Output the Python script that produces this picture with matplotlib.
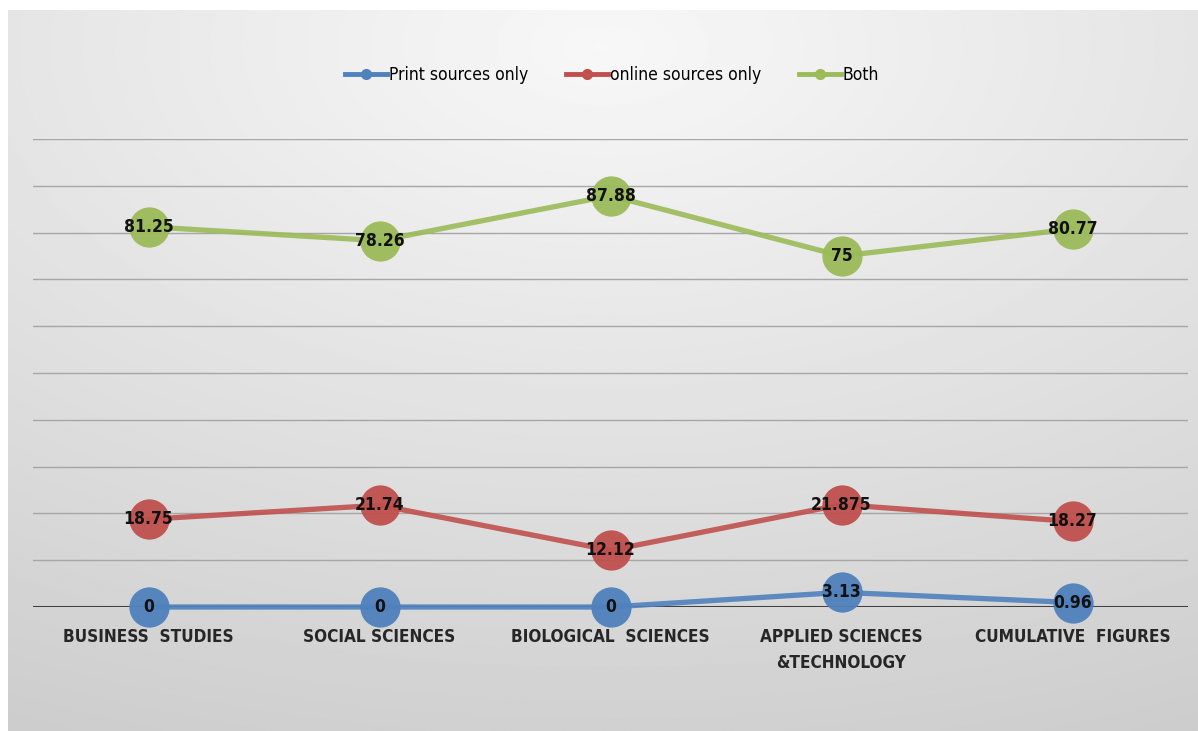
import matplotlib
matplotlib.use("Agg")
import matplotlib.pyplot as plt
import numpy as np

plt.rcParams['font.family'] = ['DejaVu Sans']
plt.rcParams['font.stretch'] = 'condensed'

categories = ["BUSINESS  STUDIES", "SOCIAL SCIENCES", "BIOLOGICAL  SCIENCES",
              "APPLIED SCIENCES\n&TECHNOLOGY", "CUMULATIVE  FIGURES"]
print_only = [0, 0, 0, 3.13, 0.96]
online_only = [18.75, 21.74, 12.12, 21.875, 18.27]
both = [81.25, 78.26, 87.88, 75, 80.77]
print_labels = ["0", "0", "0", "3.13", "0.96"]
online_labels = ["18.75", "21.74", "12.12", "21.875", "18.27"]
both_labels = ["81.25", "78.26", "87.88", "75", "80.77"]

W, H = 1198, 731
fig = plt.figure(figsize=(W / 100, H / 100), dpi=100)
fig.patch.set_facecolor("white")

# gradient background panel
bg = fig.add_axes([8 / W, 0, 1 - 8 / W, 1 - 10 / H])
yy, xx = np.mgrid[0:1:300j, 0:1:500j]
r = np.sqrt(((xx - 0.5) * 1.0) ** 2 + ((yy - 0.05) * 1.1) ** 2)
shade = 0.97 - 0.16 * np.clip(r, 0, 1.2) / 1.1
bg.imshow(shade, cmap="gray", vmin=0, vmax=1, aspect="auto", extent=[0, 1, 1, 0])
bg.set_axis_off()

ax = fig.add_axes([33 / W, 1 - 607 / H, (1188 - 33) / W, (607 - 139) / H])
ax.patch.set_alpha(0)
x = np.arange(len(categories))

series = [
    (print_only, print_labels, "#4F81BD", "Print sources only"),
    (online_only, online_labels, "#C0504D", "online sources only"),
    (both, both_labels, "#9BBB59", "Both"),
]

for yv in range(10, 101, 10):
    ax.axhline(yv, color="#a6a6a6", lw=1.0, zorder=1)
ax.axhline(0, color="#404040", lw=2.2, zorder=1)

handles = []
for vals, labs, col, name in series:
    ax.plot(x, vals, color=col, lw=3.8, zorder=3, alpha=0.9, clip_on=False)
    ax.plot(x, vals, "o", color=col, ms=29, mec="none", zorder=4, alpha=0.95,
            clip_on=False)
    h, = ax.plot([], [], color=col, lw=3.5, marker="o", ms=7, label=name)
    handles.append(h)
    for xi, v, t in zip(x, vals, labs):
        ax.text(xi, v, t, ha="center", va="center", fontsize=12.5,
                fontweight="bold", color="#111111", zorder=5)

ax.set_xlim(-0.5, len(categories) - 0.5)
ax.set_ylim(0, 100)
ax.set_yticks([])
ax.set_xticks(x)
ax.set_xticklabels(categories, fontsize=12.3, fontweight="bold", color="#262626",
                   linespacing=1.6)
ax.tick_params(axis="x", length=0, pad=15)
for s in ax.spines.values():
    s.set_visible(False)

fig.legend(handles=handles, loc="center", bbox_to_anchor=(612 / W, 1 - 75 / H),
           ncol=3, frameon=False, fontsize=12.5, handlelength=2.4,
           handletextpad=0.1, columnspacing=2.2)

fig.savefig("out.png", dpi=100)
